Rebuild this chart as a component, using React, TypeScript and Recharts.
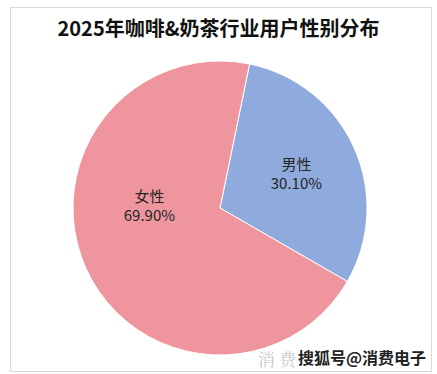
import { PieChart, Pie, Cell } from "recharts"

const genders = ["男性", "女性"]
const shares = [30.1, 69.9]
const colors = ["#8FAADC", "#EE959E"]

const data = genders.map((name, i) => ({ name, value: shares[i] }))

// excel "best fit" puts the big slice label off its mid angle
const labelShift = [0, -25.8]
const labelRadius = [0.57, 0.48]

const RADIAN = Math.PI / 180

function renderLabel(props: any) {
  const { cx, cy, midAngle, outerRadius, index, name, value } = props
  const a = (midAngle + labelShift[index]) * RADIAN
  const r = outerRadius * labelRadius[index]
  const x = cx + r * Math.cos(a)
  const y = cy - r * Math.sin(a)
  return (
    <text
      x={x}
      y={y}
      textAnchor="middle"
      fill="#262626"
      fontSize={15}
      fontFamily="'Noto Sans CJK SC', sans-serif"
    >
      <tspan x={x} dy={-4}>{name}</tspan>
      <tspan x={x} dy={19}>{value.toFixed(2)}%</tspan>
    </text>
  )
}

export default function App() {
  return (
    <div
      style={{
        position: "absolute",
        left: 0,
        top: 0,
        width: 437,
        height: 374,
        background: "#fff",
        fontFamily: "'Noto Sans CJK SC', sans-serif",
      }}
    >
      <div
        style={{
          position: "absolute",
          left: 10,
          top: 7,
          width: 420,
          height: 363,
          border: "1px solid #d9d9d9",
        }}
      />
      <div
        style={{
          position: "absolute",
          left: 0,
          width: 437,
          top: 14,
          textAlign: "center",
          fontSize: 20,
          fontWeight: 700,
          color: "#111",
          lineHeight: "28px",
        }}
      >
        2025年咖啡&amp;奶茶行业用户性别分布
      </div>
      <div style={{ position: "absolute", left: 0, top: 0 }}>
        <PieChart width={437} height={374} margin={{ top: 0, right: 0, bottom: 0, left: 0 }}>
          <Pie
            data={data}
            dataKey="value"
            nameKey="name"
            cx={220}
            cy={208}
            outerRadius={147}
            startAngle={78.4}
            endAngle={-281.6}
            stroke="#fff"
            strokeWidth={1}
            label={renderLabel}
            labelLine={false}
            isAnimationActive={false}
          >
            {data.map((d, i) => (
              <Cell key={d.name} fill={colors[i]} />
            ))}
          </Pie>
        </PieChart>
      </div>
      <div
        style={{
          position: "absolute",
          left: 258,
          top: 346,
          fontSize: 17,
          color: "#c8c8c8",
          fontFamily: "'Noto Serif CJK SC', serif",
          whiteSpace: "nowrap",
        }}
      >
        消 费
      </div>
      <div
        style={{
          position: "absolute",
          left: 298,
          top: 345,
          fontSize: 16,
          fontWeight: 700,
          color: "#222",
          whiteSpace: "nowrap",
          textShadow: "0 0 2px #fff, 0 0 2px #fff",
        }}
      >
        搜狐号@消费电子
      </div>
    </div>
  )
}
